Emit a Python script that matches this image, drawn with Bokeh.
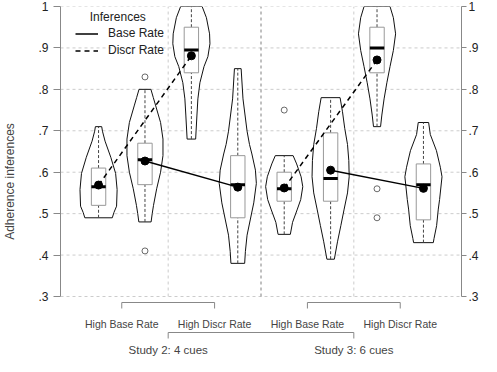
from bokeh.plotting import figure
from bokeh.models import Range1d, LinearAxis, FixedTicker, Legend, LegendItem, Label
from bokeh.embed import file_html
from bokeh.resources import INLINE
from bokeh.core.properties import value

# ---------------- data ----------------
positions = [1, 2, 3, 4, 5, 6, 7, 8]
inference = ["Discr Rate", "Base Rate", "Discr Rate", "Base Rate",
             "Discr Rate", "Base Rate", "Discr Rate", "Base Rate"]
condition_labels = ["High Base Rate", "High Discr Rate", "High Base Rate", "High Discr Rate"]
study_labels = ["Study 2: 4 cues", "Study 3: 6 cues"]

mins    = [0.49, 0.48, 0.68, 0.38, 0.45, 0.39, 0.71, 0.43]
maxs    = [0.71, 0.80, 1.00, 0.85, 0.64, 0.78, 1.00, 0.72]
q1s     = [0.52, 0.57, 0.84, 0.49, 0.53, 0.53, 0.84, 0.485]
q3s     = [0.61, 0.67, 0.95, 0.64, 0.60, 0.695, 0.95, 0.62]
medians = [0.565, 0.63, 0.895, 0.57, 0.56, 0.585, 0.90, 0.57]
means   = [0.569, 0.627, 0.881, 0.564, 0.562, 0.605, 0.871, 0.561]

outlier_pos = [2, 2, 5, 7, 7]
outlier_val = [0.41, 0.83, 0.75, 0.56, 0.49]

# violin density profiles (value levels, relative density)
dens_y = [
    [0.49, 0.503, 0.518, 0.558, 0.597, 0.636, 0.675, 0.699, 0.71],
    [0.48, 0.50, 0.52, 0.56, 0.60, 0.64, 0.68, 0.72, 0.76, 0.78, 0.80],
    [0.68, 0.738, 0.777, 0.816, 0.855, 0.879, 0.91, 0.934, 0.973, 1.0],
    [0.38, 0.409, 0.448, 0.487, 0.526, 0.573, 0.605, 0.644, 0.667, 0.699, 0.777, 0.85],
    [0.45, 0.479, 0.511, 0.534, 0.565, 0.589, 0.62, 0.64],
    [0.39, 0.432, 0.471, 0.511, 0.55, 0.589, 0.628, 0.667, 0.706, 0.746, 0.78],
    [0.71, 0.738, 0.777, 0.816, 0.855, 0.894, 0.934, 0.973, 1.0],
    [0.43, 0.44, 0.471, 0.511, 0.534, 0.589, 0.612, 0.652, 0.691, 0.72],
]
dens_w = [
    [0.74, 0.83, 0.97, 1.0, 0.92, 0.66, 0.35, 0.21, 0.17],
    [0.33, 0.39, 0.46, 0.63, 0.84, 0.97, 0.97, 0.84, 0.58, 0.45, 0.32],
    [0.23, 0.30, 0.35, 0.46, 0.68, 0.89, 1.0, 0.98, 0.81, 0.58],
    [0.37, 0.41, 0.50, 0.68, 0.86, 1.0, 0.95, 0.76, 0.63, 0.50, 0.28, 0.18],
    [0.33, 0.45, 0.71, 0.89, 1.0, 0.91, 0.67, 0.48],
    [0.20, 0.37, 0.55, 0.73, 0.91, 1.0, 0.98, 0.91, 0.76, 0.64, 0.51],
    [0.19, 0.26, 0.38, 0.53, 0.70, 0.88, 1.0, 0.88, 0.70],
    [0.53, 0.57, 0.71, 0.80, 0.87, 1.0, 0.91, 0.70, 0.37, 0.28],
]

tick_values = [0.3, 0.4, 0.5, 0.6, 0.7, 0.8, 0.9, 1.0]
tick_labels = [".3", ".4", ".5", ".6", ".7", ".8", ".9", "1"]

# ---------------- layout ----------------
FONT = "Liberation Sans"
W, H = 481, 356
BL, BR = 58, 17
FW = W - BL - BR
BT = 6
PLOT_PX = 290
XLO, XHI = 0.18, 8.82
YMIN, YMAX = 0.3, 1.0
xpx = FW / (XHI - XLO)
ypu = PLOT_PX / (YMAX - YMIN)
frame_h = H - BT
YLO = YMAX - frame_h / ypu

VIOLIN_HW = 0.4
BOX_HW = 0.155


def below(px):
    return YMIN - px / ypu


def from_top(px):
    return YMAX - px / ypu


def from_left(px):
    return XLO + px / xpx


p = figure(width=W, height=H, x_range=Range1d(XLO, XHI), y_range=Range1d(YLO, YMAX),
           output_backend="svg", toolbar_location=None,
           x_axis_location=None, y_axis_location=None,
           min_border_left=BL, min_border_right=BR, min_border_top=BT, min_border_bottom=0)
p.outline_line_color = None
p.background_fill_color = "white"
p.border_fill_color = "white"
p.xgrid.visible = False
p.ygrid.visible = False


def make_axis(side):
    ax = LinearAxis(ticker=FixedTicker(ticks=tick_values),
                    major_label_overrides=dict(zip(tick_values, tick_labels)),
                    bounds=(YMIN, YMAX),
                    axis_line_color="#888888", major_tick_line_color="#888888",
                    major_tick_in=0, minor_tick_line_color=None,
                    major_label_text_font=FONT, major_label_text_font_size="12px",
                    major_label_text_color="#222222")
    if side == "left":
        ax.major_tick_out = 7
        ax.major_label_standoff = 5
        ax.axis_label = "Adherence inferences"
        ax.axis_label_text_font = FONT
        ax.axis_label_text_font_size = "12px"
        ax.axis_label_text_font_style = "normal"
        ax.axis_label_text_color = "#444444"
        ax.axis_label_standoff = 18
    else:
        ax.major_tick_out = 5
        ax.major_label_standoff = 2
    return ax


p.add_layout(make_axis("left"), "left")
p.add_layout(make_axis("right"), "right")

# horizontal grid lines
p.segment(x0=[XLO] * len(tick_values), x1=[XHI] * len(tick_values),
          y0=tick_values, y1=tick_values, line_color="#cccccc", line_width=1, line_dash="3 3")

# vertical separators between groups
seps = [(positions[i] + positions[i + 1]) / 2 for i in (1, 3, 5)]
p.segment(x0=[seps[0], seps[2]], x1=[seps[0], seps[2]], y0=[YMIN, YMIN], y1=[YMAX, YMAX],
          line_color="#cccccc", line_width=1, line_dash="3 3")
p.segment(x0=[seps[1]], x1=[seps[1]], y0=[YMIN], y1=[YMAX],
          line_color="#808080", line_width=1, line_dash="3 3")

# violins
vx, vy = [], []
for pos, ys, ws in zip(positions, dens_y, dens_w):
    left = [pos - w * VIOLIN_HW for w in ws]
    right = [pos + w * VIOLIN_HW for w in ws]
    vx.append(left + right[::-1])
    vy.append(ys + ys[::-1])
p.patches(xs=vx, ys=vy, fill_color="white", line_color="#111111", line_width=1)

# whiskers
p.segment(x0=positions + positions, x1=positions + positions,
          y0=mins + q3s, y1=q1s + maxs, line_color="#444444", line_width=1, line_dash="3 2")

# boxes
p.quad(left=[x - BOX_HW for x in positions], right=[x + BOX_HW for x in positions],
       bottom=q1s, top=q3s, fill_color="white", line_color="#999999", line_width=1)

# medians
p.segment(x0=[x - BOX_HW for x in positions], x1=[x + BOX_HW for x in positions],
          y0=medians, y1=medians, line_color="black", line_width=3)

# outliers
p.scatter(outlier_pos, outlier_val, marker="circle", size=6, fill_color="white",
          line_color="#444444", line_width=0.8)

# mean connection lines
base_idx = [i for i, k in enumerate(inference) if k == "Base Rate"]
disc_idx = [i for i, k in enumerate(inference) if k == "Discr Rate"]
base_r = p.multi_line(xs=[[positions[base_idx[0]], positions[base_idx[1]]],
                          [positions[base_idx[2]], positions[base_idx[3]]]],
                      ys=[[means[base_idx[0]], means[base_idx[1]]],
                          [means[base_idx[2]], means[base_idx[3]]]],
                      line_color="black", line_width=1.5)
disc_r = p.multi_line(xs=[[positions[disc_idx[0]], positions[disc_idx[1]]],
                          [positions[disc_idx[2]], positions[disc_idx[3]]]],
                      ys=[[means[disc_idx[0]], means[disc_idx[1]]],
                          [means[disc_idx[2]], means[disc_idx[3]]]],
                      line_color="black", line_width=1.5, line_dash="5 4")

# means
p.scatter(positions, means, marker="circle", size=8, fill_color="black", line_color="black")

# bottom brackets and labels
group_centers = [(positions[2 * g] + positions[2 * g + 1]) / 2 for g in range(4)]
study_centers = [(group_centers[2 * s] + group_centers[2 * s + 1]) / 2 for s in range(2)]
BR_COL = "#888888"
TXT_COL = "#444444"
for s in range(2):
    a, b = group_centers[2 * s], group_centers[2 * s + 1]
    p.line([a, a, b, b], [below(12), below(6), below(6), below(12)], line_color=BR_COL, line_width=1)
a, b = study_centers
p.line([a, a, b, b], [below(42), below(36), below(36), below(42)], line_color=BR_COL, line_width=1)

p.text(x=group_centers, y=[below(27)] * 4, text=condition_labels,
       text_font=value(FONT), text_font_size="10.5px", text_color=TXT_COL,
       text_align="center", text_baseline="middle")
p.text(x=study_centers, y=[below(53)] * 2, text=study_labels,
       text_font=value(FONT), text_font_size="11.5px", text_color=TXT_COL,
       text_align="center", text_baseline="middle")

# legend
GH = 13
SP = 3
row1 = 28.5
legend = Legend(items=[LegendItem(label="Base Rate", renderers=[base_r]),
                       LegendItem(label="Discr Rate", renderers=[disc_r])],
                location=(15, frame_h - (row1 - GH / 2) - (2 * GH + SP)),
                orientation="vertical", padding=0, margin=0, spacing=SP,
                glyph_width=23, glyph_height=GH, label_height=GH, label_standoff=10,
                label_text_font=FONT, label_text_font_size="12px", label_text_color="#222222",
                border_line_color=None, background_fill_alpha=0)
p.add_layout(legend, "center")
p.add_layout(Label(x=from_left(58), y=from_top(10.5), text="Inferences",
                   text_font=FONT, text_font_size="12px", text_color="#222222",
                   text_align="center", text_baseline="middle"))

open("out.html", "w").write(file_html(p, INLINE))
